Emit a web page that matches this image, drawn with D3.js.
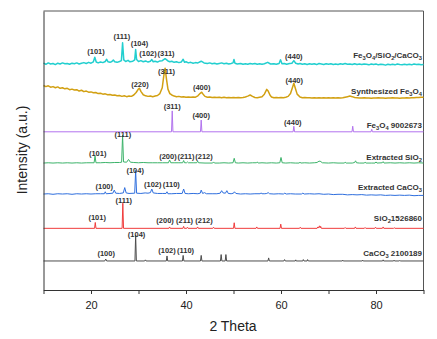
<!DOCTYPE html>
<html>
<head>
<meta charset="utf-8">
<script src="https://cdn.jsdelivr.net/npm/d3@7"></script>
<style>
  body { margin: 0; background: #fff; }
  text { font-family: Arial, "Liberation Sans", sans-serif; }
</style>
</head>
<body>
<svg id="chart"></svg>
<script>
// Series, bottom to top. "_x" marks a subscript character
const seriesNames = [
    "CaCO_3 2100189",
    "SiO_21526860",
    "Extracted CaCO_3",
    "Extracted SiO_2",
    "Fe_3O_4 9002673",
    "Synthesized Fe_3O_4",
    "Fe_3O_4/SiO_2/CaCO_3"
];
const seriesColors = ["#4d4d4d", "#f03c3c", "#2f6fde", "#3cb36a", "#b273ee", "#d2a012", "#22cfcf"];

// stacking offset of each pattern (a.u.)
const offsets = [10.4, 22.1, 34.4, 45.5, 56.7, 69.0, 81.0];

// where each name sits (a.u.)
const nameLevels = [13.3, 25.8, 36.9, 47.7, 59.1, 71.3, 84.2];

// [2 theta, intensity above offset]
const caco3Ref = [
    [10, 0], [22.9, 0], [23.1, 0.7], [23.3, 0], [29.25, 0], [29.4, 9.3], [29.55, 0],
    [31.3, 0], [31.45, 0.4], [31.6, 0], [35.85, 0], [36.0, 1.8], [36.15, 0],
    [39.25, 0], [39.4, 2.0], [39.55, 0], [43.05, 0], [43.2, 2.0], [43.35, 0],
    [47.25, 0], [47.4, 2.3], [47.55, 0], [48.25, 0], [48.4, 2.3], [48.55, 0],
    [57.25, 0], [57.4, 1.1], [57.55, 0], [60.6, 0], [60.75, 0.5], [60.9, 0],
    [63.0, 0], [63.1, 0.4], [63.2, 0], [64.6, 0], [64.7, 0.5], [64.85, 0],
    [65.5, 0], [65.6, 0.5], [65.75, 0], [72.9, 0], [73.0, 0.3], [73.1, 0],
    [77.1, 0], [77.2, 0.3], [77.3, 0], [81.4, 0], [81.5, 0.4], [81.6, 0],
    [83.7, 0], [83.8, 0.3], [83.9, 0], [84.9, 0], [85.0, 0.2], [85.1, 0], [90, 0]
];

const sio2Ref = [
    [10, 0], [20.75, 0], [20.9, 2.1], [21.05, 0], [26.55, 0], [26.7, 9.0], [26.85, 0],
    [36.4, 0], [36.55, 0.5], [36.7, 0], [39.35, 0], [39.5, 0.7], [39.65, 0],
    [40.15, 0], [40.3, 0.4], [40.45, 0], [42.3, 0], [42.45, 0.5], [42.6, 0],
    [45.65, 0], [45.8, 0.4], [45.95, 0], [50.0, 0], [50.15, 2.0], [50.3, 0],
    [54.75, 0], [54.9, 0.5], [55.05, 0], [59.8, 0], [59.95, 1.5], [60.1, 0],
    [63.9, 0], [64.05, 0.4], [64.2, 0], [67.6, 0], [67.75, 0.5], [67.9, 0.1],
    [68.1, 0.9], [68.25, 0.2], [68.35, 0.7], [68.5, 0], [73.35, 0], [73.5, 0.3], [73.65, 0],
    [75.5, 0], [75.65, 0.5], [75.8, 0], [77.55, 0], [77.7, 0.3], [77.85, 0],
    [79.75, 0], [79.9, 0.4], [80.05, 0], [81.35, 0], [81.5, 0.5], [81.65, 0],
    [83.7, 0], [83.85, 0.2], [84.0, 0], [90, 0]
];

const caco3Ext = [
    [10, 0], [11, 0.1], [12, -0.1], [13, 0.1], [14, 0], [15, 0.1], [16, -0.1], [17, 0.1],
    [18, 0], [19, 0.1], [20, 0], [21, 0.1], [22, 0.1], [22.8, 0.1], [23.0, 0.8], [23.2, 0.1],
    [24.0, 0.2], [24.6, 0.3], [24.9, 1.4], [25.2, 0.3], [26.0, 0.2], [26.8, 0.4], [27.1, 2.3],
    [27.4, 0.4], [28.0, 0.2], [29.2, 0.3], [29.4, 8.4], [29.6, 0.3], [30.5, 0.2], [31.4, 0.4],
    [32.0, 0.3], [32.5, 0.5], [32.8, 1.8], [33.1, 0.4], [34.0, 0.2], [35.0, 0.2], [35.8, 0.2],
    [36.0, 0.8], [36.2, 0.1], [37.0, 0.1], [38.0, 0.2], [39.2, 0.2], [39.5, 1.8], [39.8, 0.2],
    [40.5, 0.1], [41.5, 0.2], [42.5, 0.1], [43.0, 0.3], [43.2, 1.4], [43.5, 0.2], [43.9, 0.5],
    [44.3, 0.1], [45.5, 0.1], [46.5, 0.1], [47.2, 0.3], [47.5, 1.2], [47.8, 0.4], [48.3, 0.3],
    [48.6, 1.2], [48.9, 0.2], [49.5, 0.1], [50.0, 0.3], [50.2, 0.8], [50.5, 0.2], [51.5, 0.0],
    [52.5, 0.1], [53.5, 0.0], [54.5, 0.1], [55.6, 0.1], [55.8, 0.4], [56.0, 0.1], [56.6, 0.1],
    [57.0, 0.2], [57.3, 0.5], [57.6, 0.1], [58.5, 0.0], [59.5, 0.1], [60.5, 0.0], [60.8, 0.3],
    [61.1, 0.0], [62.0, 0.1], [63.0, 0.0], [64.3, 0.0], [64.6, 0.3], [64.9, 0.0], [66.0, 0.1],
    [67.0, 0.0], [68.0, 0.1], [69.0, -0.1], [70.0, 0.0], [71.0, -0.2], [72.0, -0.1], [73.0, -0.1],
    [74.0, -0.3], [75.0, -0.2], [76.0, -0.3], [77.0, -0.2], [78.0, -0.4], [79.0, -0.3],
    [80.0, -0.4], [81.0, -0.3], [82.0, -0.5], [83.0, -0.4], [84.0, -0.5], [85.0, -0.4],
    [86.0, -0.5], [87.0, -0.4], [88.0, -0.6], [89.0, -0.5], [90.0, -0.5]
];

const sio2Ext = [
    [10, 0], [11, 0.1], [12, 0], [13, 0.1], [14, 0], [15, 0.1], [16, 0], [17, 0.1], [18, 0],
    [19, 0.1], [20, 0.1], [20.65, 0.1], [20.85, 2.5], [21.05, 0.1], [22, 0.1], [23, 0.2],
    [24, 0.1], [25, 0.2], [26, 0.2], [26.45, 0.3], [26.65, 10.0], [26.85, 0.4], [27.5, 0.3],
    [27.9, 1.3], [28.3, 0.3], [29, 0.2], [30, 0.1], [31, 0.2], [32, 0.1], [33, 0.1], [34, 0.1],
    [35, 0.1], [36.3, 0.1], [36.55, 1.1], [36.8, 0.1], [37.5, 0.1], [38.5, 0.1], [39.3, 0.1],
    [39.5, 0.9], [39.7, 0.1], [40.1, 0.1], [40.3, 0.4], [40.5, 0.1], [41.5, 0.1], [42.25, 0.1],
    [42.45, 0.7], [42.65, 0.1], [44, 0.0], [45.6, 0.0], [45.8, 0.4], [46.0, 0.0], [47, 0.0],
    [48, 0.1], [49, 0.0], [49.9, 0.1], [50.15, 1.7], [50.4, 0.1], [51, 0.0], [52, 0.1],
    [53, 0.0], [54, 0.1], [54.8, 0.1], [55.0, 0.4], [55.2, 0.0], [56, 0.1], [57, 0.0], [58, 0.1],
    [59, 0.0], [59.75, 0.1], [60.0, 2.0], [60.25, 0.1], [61, 0.0], [62, 0.1], [63, 0.0],
    [63.8, 0.0], [64.0, 0.3], [64.2, 0.0], [65, 0.1], [66, 0.0], [67, 0.1], [67.6, 0.2],
    [67.8, 0.5], [68.0, 0.6], [68.2, 0.7], [68.4, 0.5], [68.7, 0.1], [70, 0.0], [71, 0.1],
    [72, 0.0], [73.3, 0.0], [73.5, 0.3], [73.7, 0.0], [75.0, 0.0], [75.5, 0.2], [75.7, 0.8],
    [75.9, 0.1], [76.5, 0.0], [77.5, 0.0], [77.7, 0.3], [77.9, 0.0], [79.0, 0.0], [79.8, 0.0],
    [80.0, 0.4], [80.2, 0.0], [81.3, 0.1], [81.5, 0.5], [81.7, 0.0], [83, 0.1], [84, 0.0],
    [85, 0.1], [86, 0.0], [87, 0.1], [88, 0.0], [89, 0.1], [90, 0.0]
];

const fe3o4Ref = [
    [10, 0], [36.95, 0], [37.1, 7.5], [37.25, 0], [43.05, 0], [43.2, 4.2], [43.35, 0],
    [62.55, 0], [62.7, 2.0], [62.85, 0], [74.95, 0], [75.1, 2.0], [75.25, 0],
    [78.95, 0], [79.1, 0.9], [79.25, 0], [90, 0]
];

const fe3o4Syn = [
    [10.0, 4.3], [10.5, 3.9], [11.0, 4.2], [11.5, 3.7], [12.0, 3.9], [12.5, 3.5], [13.0, 3.8],
    [13.5, 3.3], [14.0, 3.5], [14.5, 3.1], [15.0, 3.3], [15.5, 2.8], [16.0, 3.0], [16.5, 2.7],
    [17.0, 2.8], [17.5, 2.3], [18.0, 2.6], [18.5, 2.1], [19.0, 2.3], [19.5, 1.9], [20.0, 2.0],
    [20.5, 1.7], [21.0, 1.8], [21.5, 1.4], [22.0, 1.5], [22.5, 1.2], [23.0, 1.3], [23.5, 1.0],
    [24.0, 1.1], [24.5, 0.8], [25.0, 0.9], [25.5, 0.6], [26.0, 0.7], [26.5, 0.4], [27.0, 0.6],
    [27.5, 0.3], [28.0, 0.5], [28.5, 0.4], [29.0, 0.9], [29.5, 1.8], [30.0, 3.1], [30.2, 3.3],
    [30.5, 2.2], [31.0, 1.0], [31.5, 0.6], [32.0, 0.4], [32.5, 0.5], [33.0, 0.3], [33.5, 0.5],
    [34.0, 0.7], [34.5, 1.4], [35.0, 3.5], [35.3, 7.5], [35.6, 10.5], [35.9, 6.5], [36.2, 3.0],
    [36.6, 1.4], [37.0, 0.9], [37.5, 0.5], [38.0, 0.3], [38.5, 0.4], [39.0, 0.2], [39.5, 0.3],
    [40.0, 0.1], [40.5, 0.2], [41.0, 0.1], [41.5, 0.2], [42.0, 0.1], [42.5, 0.6], [43.0, 1.5],
    [43.3, 1.9], [43.6, 1.2], [44.0, 0.4], [44.5, 0.1], [45.0, 0.2], [45.5, 0.0], [46.0, 0.1],
    [46.5, 0.0], [47.0, 0.1], [47.5, -0.1], [48.0, 0.1], [48.5, -0.1], [49.0, 0.0], [49.5, -0.1],
    [50.0, 0.0], [50.5, -0.1], [51.0, 0.0], [51.5, -0.1], [52.0, 0.0], [52.5, 0.2], [53.0, 0.5],
    [53.5, 0.9], [54.0, 0.4], [54.5, 0.0], [55.0, -0.1], [55.5, 0.1], [56.0, 0.3], [56.5, 1.2],
    [57.0, 2.9], [57.3, 2.3], [57.7, 0.8], [58.0, 0.2], [58.5, -0.1], [59.0, 0.0], [59.5, -0.1],
    [60.0, 0.0], [60.5, -0.1], [61.0, 0.1], [61.5, 0.4], [62.0, 1.4], [62.4, 3.5], [62.7, 5.1],
    [63.0, 3.4], [63.4, 1.2], [64.0, 0.2], [64.5, -0.1], [65.0, 0.0], [65.5, -0.1], [66.0, -0.1],
    [66.5, -0.2], [67.0, -0.1], [67.5, -0.2], [68.0, -0.1], [68.5, -0.2], [69.0, -0.1],
    [69.5, -0.2], [70.0, -0.1], [70.5, -0.2], [71.0, -0.1], [71.5, -0.2], [72.0, -0.1],
    [72.5, -0.2], [73.0, -0.1], [73.5, 0.1], [74.0, 0.3], [74.5, 0.5], [75.0, 0.3], [75.5, 0.0],
    [76.0, -0.1], [76.5, -0.2], [77.0, -0.2], [77.5, -0.1], [78.0, -0.2], [78.5, -0.2],
    [79.0, -0.3], [79.5, -0.2], [80.0, -0.2], [80.5, -0.1], [81.0, -0.2], [81.5, -0.2],
    [82.0, -0.3], [82.5, -0.2], [83.0, -0.2], [83.5, -0.1], [84.0, -0.2], [84.5, -0.2],
    [85.0, -0.3], [85.5, -0.2], [86.0, -0.2], [86.5, -0.1], [87.0, -0.2], [87.5, -0.1],
    [88.0, -0.1], [88.5, 0.0], [89.0, 0.0], [89.5, 0.1], [90.0, 0.1]
];

const composite = [
    [10.0, 0.3], [10.5, -0.1], [11.0, 0.4], [11.5, 0.0], [12.0, 0.2], [12.5, -0.2], [13.0, 0.3],
    [13.5, 0.0], [14.0, 0.4], [14.5, 0.1], [15.0, 0.2], [15.5, -0.1], [16.0, 0.3], [16.5, 0.1],
    [17.0, 0.4], [17.5, 0.0], [18.0, 0.3], [18.5, 0.5], [19.0, 0.2], [19.5, 0.6], [20.0, 0.3],
    [20.5, 0.8], [20.8, 2.4], [21.1, 0.7], [21.5, 0.4], [22.0, 0.7], [22.5, 0.5], [23.0, 0.9],
    [23.3, 1.7], [23.6, 0.8], [24.0, 0.6], [24.4, 0.9], [24.7, 1.4], [25.0, 0.8], [25.5, 0.6],
    [26.0, 0.9], [26.4, 1.2], [26.65, 7.6], [26.9, 1.5], [27.3, 0.9], [27.8, 1.3], [28.2, 0.8],
    [28.8, 1.0], [29.2, 1.5], [29.4, 5.2], [29.6, 1.6], [30.0, 0.9], [30.5, 1.2], [31.0, 0.8],
    [31.5, 1.1], [32.0, 0.7], [32.5, 1.0], [32.8, 1.6], [33.1, 0.8], [33.5, 1.0], [34.0, 0.7],
    [34.5, 1.1], [35.0, 1.2], [35.6, 1.9], [36.2, 1.1], [36.6, 0.8], [37.0, 1.0], [37.5, 0.6],
    [38.0, 0.8], [38.5, 0.5], [39.0, 0.7], [39.4, 1.7], [39.7, 0.6], [40.0, 0.8], [40.5, 0.4],
    [41.0, 0.6], [41.5, 0.3], [42.0, 0.5], [42.5, 0.4], [43.2, 1.0], [43.8, 0.4], [44.5, 0.2],
    [45.0, 0.4], [45.5, 0.1], [46.0, 0.3], [46.5, 0.0], [47.0, 0.2], [47.5, 0.4], [48.0, 0.1],
    [48.5, 0.3], [49.0, 0.0], [49.5, 0.2], [49.9, 0.4], [50.1, 1.6], [50.3, 0.3], [50.8, 0.0],
    [51.5, 0.2], [52.0, -0.1], [52.5, 0.1], [53.0, -0.1], [53.5, 0.2], [54.0, 0.0], [54.5, 0.2],
    [55.0, -0.1], [55.5, 0.1], [56.0, -0.1], [56.5, 0.1], [57.2, 0.6], [57.8, 0.0], [58.5, 0.1],
    [59.0, -0.1], [59.6, 0.2], [59.9, 1.5], [60.2, 0.1], [60.7, 0.2], [61.2, -0.1], [61.8, 0.2],
    [62.3, 0.3], [62.7, 1.2], [63.1, 0.3], [63.6, 0.0], [64.0, 0.2], [64.5, -0.1], [65.0, 0.1],
    [65.5, -0.2], [66.0, 0.1], [66.5, -0.1], [67.0, 0.1], [67.5, -0.2], [68.0, 0.2], [68.5, 0.0],
    [69.0, -0.2], [69.5, 0.1], [70.0, -0.1], [70.5, 0.1], [71.0, -0.2], [71.5, 0.0], [72.0, -0.2],
    [72.5, 0.1], [73.0, -0.1], [73.5, 0.2], [74.0, -0.1], [74.5, 0.0], [75.0, -0.2], [75.5, 0.1],
    [76.0, -0.2], [76.5, 0.0], [77.0, -0.2], [77.5, 0.0], [78.0, -0.1], [78.5, -0.3], [79.0, 0.0],
    [79.5, -0.2], [80.0, 0.0], [80.5, -0.3], [81.0, -0.1], [81.5, -0.2], [82.0, -0.4], [82.5, -0.1],
    [83.0, -0.3], [83.5, -0.1], [84.0, -0.3], [84.5, 0.0], [85.0, -0.2], [85.5, -0.3], [86.0, -0.1],
    [86.5, -0.3], [87.0, -0.1], [87.5, -0.3], [88.0, 0.0], [88.5, -0.2], [89.0, -0.1], [89.5, -0.3],
    [90.0, -0.2]
];

const seriesData = [caco3Ref, sio2Ref, caco3Ext, sio2Ext, fe3o4Ref, fe3o4Syn, composite];

// Miller index labels: [text, 2 theta, a.u.]
const peakLabels = [
    ["(101)", 21.05, 85.4], ["(111)", 26.5, 90.8], ["(104)", 30.2, 88.4],
    ["(102)", 32.0, 84.8], ["(311)", 35.8, 84.8], ["(440)", 62.7, 83.6],
    ["(220)", 30.3, 73.7], ["(311)", 35.9, 78.5], ["(400)", 43.3, 72.5], ["(440)", 62.8, 75.0],
    ["(311)", 37.1, 65.9], ["(400)", 43.2, 62.5], ["(440)", 62.5, 60.0],
    ["(101)", 21.4, 49.0], ["(111)", 26.7, 55.6], ["(200)", 36.2, 48.0], ["(211)", 40.0, 48.0], ["(212)", 43.8, 48.0],
    ["(100)", 22.8, 37.3], ["(104)", 29.3, 43.0], ["(102)", 33.0, 38.0], ["(110)", 36.9, 38.0],
    ["(101)", 21.3, 26.2], ["(111)", 26.9, 32.0], ["(200)", 35.6, 25.1], ["(211)", 39.7, 25.1], ["(212)", 43.8, 25.1],
    ["(100)", 23.2, 13.2], ["(104)", 29.6, 20.0], ["(102)", 36.0, 14.1], ["(110)", 39.9, 14.1]
];

// Axis ticks
const xTicks = [10, 20, 30, 40, 50, 60, 70, 80, 90];
const xTickLabels = [20, 40, 60, 80];

// Chart dimensions
const width = 437;
const height = 339;
const margin = { top: 11, right: 13.5, bottom: 49, left: 43.5 };

const xScale = d3.scaleLinear()
    .domain([10, 90])
    .range([margin.left, width - margin.right]);

const yScale = d3.scaleLinear()
    .domain([0, 100])
    .range([height - margin.bottom, margin.top]);

const svg = d3.select("#chart")
    .attr("width", width)
    .attr("height", height);

// writes a label, turning "_x" into a subscript x
function richText(sel, str, size) {
    let shift = 0;
    str.split(/(_.)/).filter(s => s).forEach(s => {
        if (s[0] === "_") {
            sel.append("tspan").attr("dy", 2 - shift).attr("font-size", size * 0.72).text(s[1]);
            shift = 2;
        } else {
            sel.append("tspan").attr("dy", -shift).text(s);
            shift = 0;
        }
    });
}

// Frame (top and right)
svg.append("path")
    .attr("d", `M${xScale(10)},${yScale(100)}H${xScale(90)}V${yScale(0)}`)
    .attr("fill", "none")
    .attr("stroke", "#555")
    .attr("stroke-width", 1);

// Patterns
const line = d3.line()
    .x(d => xScale(d[0]))
    .y(d => d[1]);

seriesData.forEach((data, i) => {
    svg.append("path")
        .datum(data.map(d => [d[0], yScale(d[1] + offsets[i])]))
        .attr("fill", "none")
        .attr("stroke", seriesColors[i])
        .attr("stroke-width", i >= 5 ? 1.5 : 1)
        .attr("stroke-linejoin", "round")
        .attr("d", line);
});

// Pattern names on the right
seriesNames.forEach((name, i) => {
    const t = svg.append("text")
        .attr("x", xScale(90) - 1.5)
        .attr("y", yScale(nameLevels[i]) + 3)
        .attr("text-anchor", "end")
        .attr("font-size", 8)
        .attr("font-weight", "bold")
        .attr("fill", "#333");
    richText(t, name, 8);
});

// Peak labels
svg.selectAll(".peak")
    .data(peakLabels)
    .enter()
    .append("text")
    .attr("class", "peak")
    .attr("x", d => xScale(d[1]))
    .attr("y", d => yScale(d[2]) + 2.6)
    .attr("text-anchor", "middle")
    .attr("font-size", 7.5)
    .attr("font-weight", "bold")
    .attr("fill", "#333")
    .text(d => d[0]);

// X axis
const xAxis = d3.axisBottom(xScale)
    .tickValues(xTicks)
    .tickSize(4)
    .tickSizeOuter(0)
    .tickFormat(d => xTickLabels.includes(d) ? d : "");
const gx = svg.append("g")
    .attr("transform", `translate(0, ${yScale(0)})`)
    .call(xAxis);
gx.selectAll("path, line").attr("stroke", "#333");
gx.selectAll("text")
    .attr("font-size", 11)
    .attr("fill", "#222")
    .attr("dy", "1.05em");

// Y axis (line only)
const gy = svg.append("g")
    .attr("transform", `translate(${margin.left}, 0)`)
    .call(d3.axisLeft(yScale).tickValues([]).tickSizeOuter(0));
gy.select("path").attr("stroke", "#333");

// Axis titles
svg.append("text")
    .attr("x", 233)
    .attr("y", 331)
    .attr("text-anchor", "middle")
    .attr("font-size", 14)
    .attr("fill", "#222")
    .text("2 Theta");

svg.append("text")
    .attr("transform", "rotate(-90)")
    .attr("x", -150)
    .attr("y", 27)
    .attr("text-anchor", "middle")
    .attr("font-size", 14)
    .attr("fill", "#222")
    .text("Intensity (a.u.)");
</script>
</body>
</html>
